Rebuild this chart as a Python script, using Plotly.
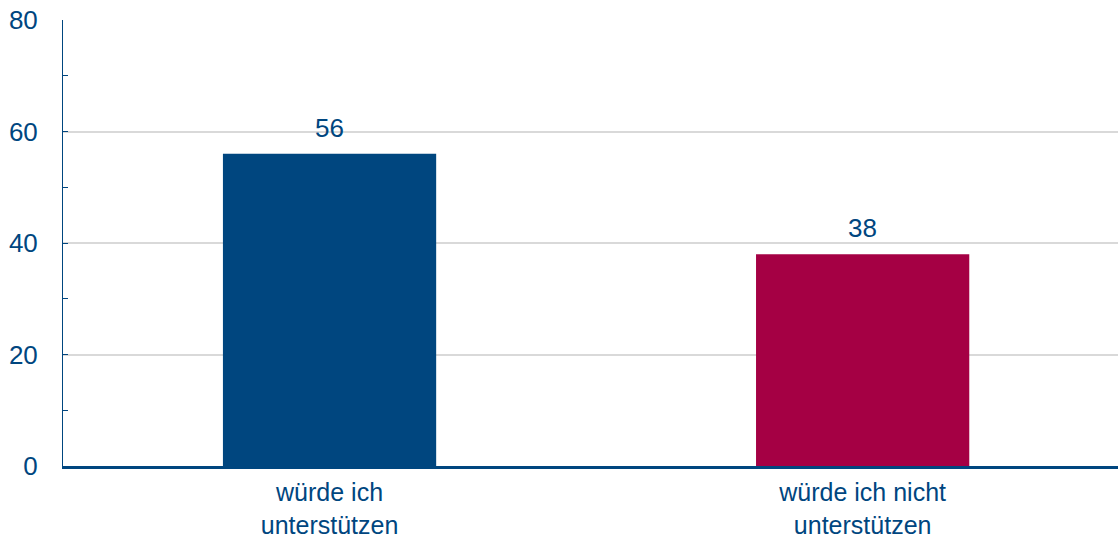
import plotly.graph_objects as go

categories = ["würde ich<br>unterstützen", "würde ich nicht<br>unterstützen"]
values = [56, 38]
bar_colors = ["#00467F", "#A50044"]
y_ticks = [0, 20, 40, 60, 80]

BLUE = "#00467F"
FONT = "Liberation Sans, Arial, sans-serif"
FS = 26

fig = go.Figure(
    go.Bar(
        x=categories,
        y=values,
        marker=dict(color=bar_colors, line=dict(width=0)),
        width=0.4,
        cliponaxis=False,
    )
)

for c, v in zip(categories, values):
    fig.add_annotation(
        x=c, y=v, text=str(v), showarrow=False,
        yanchor="bottom", yshift=9,
        font=dict(family=FONT, size=FS, color=BLUE),
    )

fig.update_layout(
    width=1118,
    height=541,
    margin=dict(l=63, r=0, t=20, b=75),
    plot_bgcolor="white",
    paper_bgcolor="white",
    showlegend=False,
    font=dict(family=FONT, size=FS, color=BLUE),
)

fig.update_xaxes(
    range=[-0.5, 1.479],
    showline=True,
    linecolor=BLUE,
    linewidth=3,
    showgrid=False,
    ticks="",
    ticklabelstandoff=2,
    automargin=False,
    tickfont=dict(family=FONT, size=25, color=BLUE),
)

fig.update_yaxes(
    range=[0, 80],
    tickvals=y_ticks,
    showline=True,
    linecolor=BLUE,
    linewidth=1,
    showgrid=True,
    gridcolor="#D9D9D9",
    gridwidth=2,
    zeroline=False,
    ticks="inside",
    ticklen=5,
    tickcolor=BLUE,
    tickwidth=1,
    minor=dict(dtick=10, ticks="inside", ticklen=5, tickcolor=BLUE, tickwidth=1, showgrid=False),
    ticklabelstandoff=19,
    automargin=False,
    tickfont=dict(family=FONT, size=FS, color=BLUE),
)

fig.write_html(
    "out.html",
    config={"displayModeBar": False},
    post_script="document.body.style.margin='0';",
)
